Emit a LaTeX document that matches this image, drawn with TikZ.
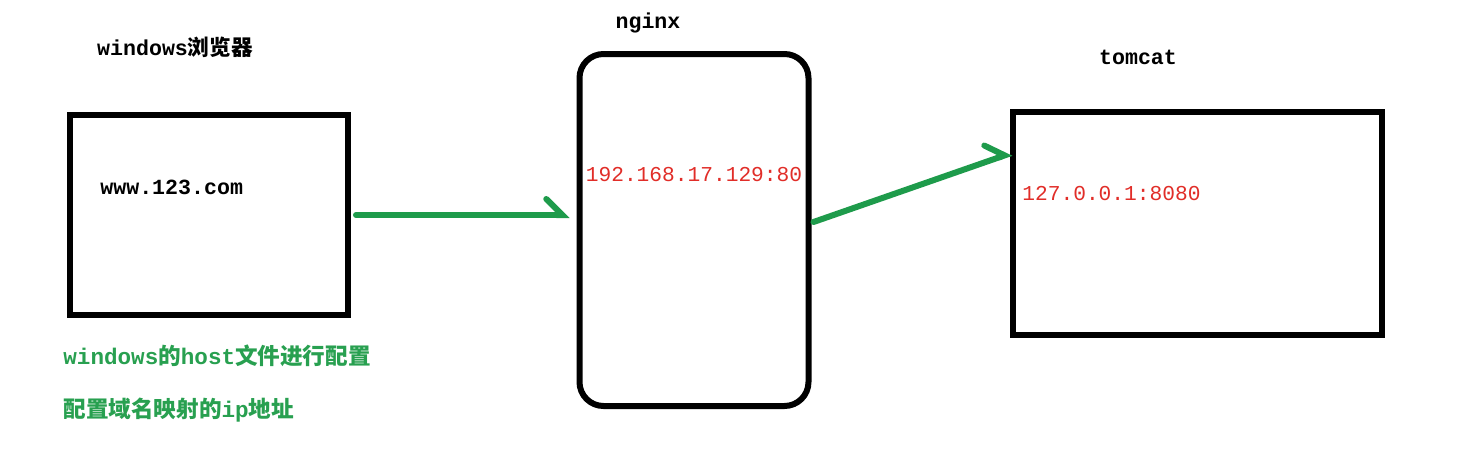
\documentclass[tikz,border=0pt]{standalone}
\usepackage{fontspec}
\setmainfont{Liberation Mono}
\newfontfamily\cjk{Noto Sans CJK SC}
\usetikzlibrary{arrows.meta,positioning,calc}
\definecolor{flowgreen}{RGB}{30,155,75}
\definecolor{notegreen}{RGB}{40,160,80}
\definecolor{addrred}{RGB}{225,45,40}

\begin{document}
\begin{tikzpicture}[x=0.5pt, y=-0.5pt,
			box/.style={draw, rectangle, line width=3pt, inner sep=0pt},
			serverBox/.style={box, rounded corners=12pt},
			title/.style={inner sep=0pt, font=\fontsize{10.8}{13}\selectfont\bfseries},
			addr/.style={inner sep=0pt, font=\fontsize{10.6}{13}\selectfont, text=addrred},
			note/.style={inner sep=0pt, font=\fontsize{11.3}{13}\selectfont\bfseries, text=notegreen, anchor=west},
			flow/.style={draw=flowgreen, line width=3pt, line cap=round,
				-{Straight Barb[left, length=8pt, width=16pt, line cap=round]}},
			]
			\fill[white] (0,0) rectangle (1457,471);
			\useasboundingbox (0,0) rectangle (1457,471);
			
			% boxes
			\node[box, minimum width=139pt, minimum height=100pt] (browser) at (209,215) {};
			\node[serverBox, minimum width=114.5pt, minimum height=176pt] (nginx) at (694,230) {};
			\node[box, minimum width=184.5pt, minimum height=111.5pt] (tomcat) at (1197,223) {};
			
			% titles
			\node[title] (browserTitle) at (175,47) {windows{\cjk 浏览器}};
			\node[title] (nginxTitle) at (648,23) {nginx};
			\node[title] (tomcatTitle) at (1138,57) {tomcat};
			
			% addresses
			\node[title, anchor=west] (urlText) at (100,187) {www.123.com};
			\node[addr] (nginxAddr) at ($(nginx.center)+(0,-55)$) {192.168.17.129:80};
			\node[addr, anchor=west] (tomcatAddr) at (1022,194) {127.0.0.1:8080};
			
			% notes
			\node[note] (hostNote1) at (63,356) {windows{\cjk 的}host{\cjk 文件进行配置}};
			\node[note] (hostNote2) at ($(hostNote1.west)+(0,54)$) {{\cjk 配置域名映射的}ip{\cjk 地址}};
			
			% Arrow
			\coordinate (nginxOut) at ($(nginx.east)+(2,-8)$);
			\coordinate (tomcatIn) at ($(tomcat.west)+(2,-70)$);
			\draw [flow, shorten <=2.5pt, shorten >=3.5pt] (browser.east) -- (browser.east -| nginx.west);
			\draw [flow] (nginxOut) -- (tomcatIn);
			
		\end{tikzpicture}
\end{document}
